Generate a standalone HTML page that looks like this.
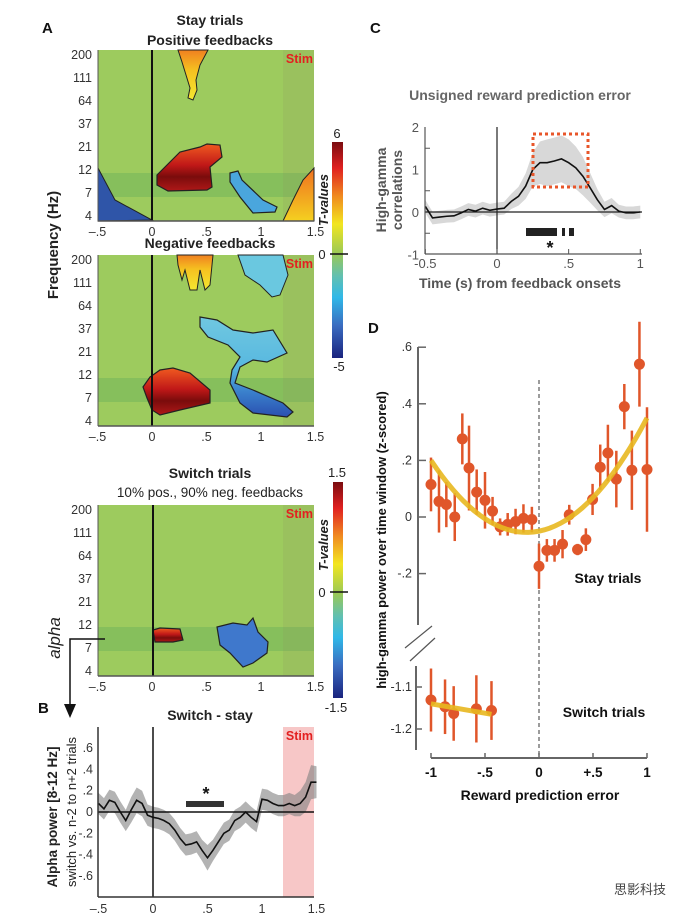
<!DOCTYPE html>
<html><head><meta charset="utf-8">
<style>
html,body{margin:0;padding:0;background:#fff;}
svg{display:block;font-family:"Liberation Sans",Arial,sans-serif;}
.tk{font-size:12.5px;fill:#333;}
.tt{font-size:14px;font-weight:bold;fill:#222;}
.pl{font-size:15px;font-weight:bold;fill:#111;}
</style></head>
<body>
<svg id="fig" width="689" height="918" viewBox="0 0 689 918">
<defs>
<linearGradient id="cbA" x1="0" y1="0" x2="0" y2="1">
<stop offset="0" stop-color="#7a0c10"/><stop offset="0.12" stop-color="#e02020"/><stop offset="0.25" stop-color="#f08a20"/><stop offset="0.38" stop-color="#f2e620"/><stop offset="0.52" stop-color="#98c858"/><stop offset="0.62" stop-color="#62c0b0"/><stop offset="0.72" stop-color="#30b8e8"/><stop offset="0.85" stop-color="#3a6cc0"/><stop offset="1" stop-color="#1a237e"/>
</linearGradient>
<linearGradient id="redG" x1="0" y1="0" x2="0" y2="1"><stop offset="0" stop-color="#f05a20"/><stop offset="0.45" stop-color="#c01818"/><stop offset="0.7" stop-color="#7a0c0c"/><stop offset="1" stop-color="#b01818"/></linearGradient>
<linearGradient id="yelG" x1="0" y1="0" x2="0" y2="1"><stop offset="0" stop-color="#f08020"/><stop offset="0.4" stop-color="#f5c020"/><stop offset="1" stop-color="#f4e830"/></linearGradient>
<linearGradient id="blueG" x1="0" y1="0" x2="0" y2="1"><stop offset="0" stop-color="#70c8e0"/><stop offset="0.5" stop-color="#58b8e0"/><stop offset="0.75" stop-color="#3a80cc"/><stop offset="1" stop-color="#2a50b0"/></linearGradient>
<linearGradient id="orG" x1="0" y1="0" x2="0" y2="1"><stop offset="0" stop-color="#f07020"/><stop offset="1" stop-color="#f4d020"/></linearGradient>
</defs>

<text x="42" y="33" class="pl">A</text>
<text x="210" y="25" class="tt" text-anchor="middle">Stay trials</text>
<text x="210" y="45" class="tt" text-anchor="middle">Positive feedbacks</text>
<text x="210" y="248" class="tt" text-anchor="middle">Negative feedbacks</text>
<text transform="translate(58,245) rotate(-90)" font-size="15" font-weight="bold" fill="#222" text-anchor="middle">Frequency (Hz)</text>

<g id="hmTop">
<rect x="98" y="50" width="216" height="171" fill="#9dcb5e"/>
<rect x="98" y="173" width="216" height="24" fill="#86bf5c"/>
<rect x="283" y="50" width="31" height="171" fill="#8a8a60" opacity="0.15"/>
<path d="M178,50 L208,50 L200,65 L196,80 L197,90 L193,100 L188,98 L190,88 L186,75 L182,62 Z" fill="url(#yelG)" stroke="#222" stroke-width="1"/>
<path d="M157,175 L180,152 L200,147 L207,144 L220,145 L222,157 L210,167 L212,187 L207,190 L168,191 L157,185 Z" fill="url(#redG)" stroke="#222" stroke-width="1.2"/>
<path d="M230,173 L238,171 L242,180 L263,200 L277,207 L275,212 L253,213 L240,197 L230,182 Z" fill="#4aa6dd" stroke="#222" stroke-width="1.2"/>
<path d="M98,168 L115,200 L152,220 L98,221 Z" fill="#2f55a8" stroke="#222" stroke-width="1"/>
<path d="M283,221 L293,200 L303,180 L314,168 L314,221 Z" fill="url(#orG)" stroke="#222" stroke-width="1"/>
<line x1="152" y1="50" x2="152" y2="221" stroke="#111" stroke-width="2"/>
<text x="313" y="63" font-size="12.5" font-weight="bold" fill="#e32020" text-anchor="end">Stim</text>
</g>

<g id="hmNeg">
<rect x="98" y="255" width="216" height="171" fill="#9dcb5e"/>
<rect x="98" y="378" width="216" height="24" fill="#86bf5c"/>
<rect x="283" y="255" width="31" height="171" fill="#8a8a60" opacity="0.15"/>
<path d="M177,255 L213,255 L210,285 L205,290 L200,270 L197,290 L190,290 L185,270 L182,280 L178,265 Z" fill="url(#yelG)" stroke="#222" stroke-width="1"/>
<path d="M238,255 L283,255 L288,275 L280,295 L272,297 L260,285 L245,275 Z" fill="#6ac8e0" stroke="#222" stroke-width="1"/>
<path d="M200,317 L217,320 L233,330 L253,333 L273,330 L287,353 L267,362 L253,360 L240,367 L235,383 L253,390 L283,403 L293,412 L287,417 L253,413 L240,403 L230,383 L232,370 L240,357 L228,345 L208,337 L200,327 Z" fill="url(#blueG)" stroke="#222" stroke-width="1.2"/>
<path d="M143,387 L150,377 L160,370 L173,368 L190,373 L210,390 L210,403 L180,410 L160,415 L152,410 L147,398 Z" fill="url(#redG)" stroke="#222" stroke-width="1.2"/>
<line x1="152" y1="255" x2="152" y2="426" stroke="#111" stroke-width="2"/>
<text x="313" y="268" font-size="12.5" font-weight="bold" fill="#e32020" text-anchor="end">Stim</text>
</g>

<g id="cbarA">
<rect x="332" y="142" width="11" height="216" fill="url(#cbA)"/>
<line x1="330" y1="254" x2="348" y2="254" stroke="#111" stroke-width="1.5"/>
<text x="337" y="138" font-size="13" fill="#222" text-anchor="middle">6</text>
<text x="322" y="259" font-size="13" fill="#222" text-anchor="middle">0</text>
<text x="339" y="371" font-size="13" fill="#222" text-anchor="middle">-5</text>
<text transform="translate(328,200) rotate(-90)" font-size="13" font-weight="bold" font-style="italic" fill="#222" text-anchor="middle">T-values</text>
</g>

<text x="210" y="478" class="tt" text-anchor="middle">Switch trials</text>
<text x="210" y="497" font-size="13.5" fill="#222" text-anchor="middle">10% pos., 90% neg.  feedbacks</text>
<g id="hmSw">
<rect x="98" y="505" width="216" height="171" fill="#9dcb5e"/>
<rect x="98" y="627" width="216" height="24" fill="#86bf5c"/>
<rect x="283" y="505" width="31" height="171" fill="#8a8a60" opacity="0.15"/>
<path d="M153,630 L160,628 L180,629 L183,640 L173,642 L155,642 Z" fill="url(#redG)" stroke="#222" stroke-width="1.2"/>
<path d="M217,627 L233,623 L247,625 L253,618 L258,632 L268,642 L267,653 L253,663 L243,667 L230,653 L220,645 Z" fill="#3f78cc" stroke="#222" stroke-width="1.2"/>
<line x1="153" y1="505" x2="153" y2="676" stroke="#111" stroke-width="2"/>
<text x="313" y="518" font-size="12.5" font-weight="bold" fill="#e32020" text-anchor="end">Stim</text>
</g>
<g id="cbarS">
<rect x="333" y="482" width="10" height="216" fill="url(#cbA)"/>
<line x1="330" y1="592" x2="348" y2="592" stroke="#111" stroke-width="1.5"/>
<text x="337" y="477" font-size="13" fill="#222" text-anchor="middle">1.5</text>
<text x="322" y="597" font-size="13" fill="#222" text-anchor="middle">0</text>
<text x="336" y="712" font-size="13" fill="#222" text-anchor="middle">-1.5</text>
<text transform="translate(328,545) rotate(-90)" font-size="13" font-weight="bold" font-style="italic" fill="#222" text-anchor="middle">T-values</text>
</g>
<text transform="translate(60,638) rotate(-90)" font-size="17" font-style="italic" fill="#222" text-anchor="middle">alpha</text>
<path d="M105,639 L70,639 L70,710" fill="none" stroke="#111" stroke-width="1.5"/>
<path d="M64,704 L76,704 L70,718 Z" fill="#111"/>

<text x="38" y="713" class="pl">B</text>
<text x="210" y="720" class="tt" text-anchor="middle">Switch - stay</text>
<text transform="translate(57,817) rotate(-90)" font-size="13.5" font-weight="bold" fill="#222" text-anchor="middle">Alpha power [8-12 Hz]</text>
<text transform="translate(76,812) rotate(-90)" font-size="13" fill="#222" text-anchor="middle">switch vs. n-2 to n+2 trials</text>
<g id="panelB"></g>

<text x="370" y="33" class="pl">C</text>
<text x="520" y="100" font-size="14" font-weight="bold" fill="#666" text-anchor="middle">Unsigned reward prediction error</text>
<text transform="translate(386,190) rotate(-90)" font-size="14" font-weight="bold" fill="#555" text-anchor="middle">High-gamma</text>
<text transform="translate(402,190) rotate(-90)" font-size="14" font-weight="bold" fill="#555" text-anchor="middle">correlations</text>
<text x="520" y="288" font-size="14" font-weight="bold" fill="#555" text-anchor="middle">Time (s) from feedback onsets</text>
<g id="panelC"></g>

<text x="368" y="333" class="pl">D</text>
<text transform="translate(386,540) rotate(-90)" font-size="13" font-weight="bold" fill="#111" text-anchor="middle">high-gamma power  over time window (z-scored)</text>
<text x="540" y="800" font-size="14" font-weight="bold" fill="#111" text-anchor="middle">Reward prediction error</text>
<text x="608" y="583" font-size="14" font-weight="bold" fill="#111" text-anchor="middle">Stay trials</text>
<text x="604" y="717" font-size="14" font-weight="bold" fill="#111" text-anchor="middle">Switch trials</text>
<g id="panelD"></g>
<text x="640" y="894" font-size="13" fill="#444" text-anchor="middle">思影科技</text>
</svg>
<script>
const bTimes=[-0.5,-0.45,-0.4,-0.35,-0.3,-0.25,-0.2,-0.15,-0.1,-0.05,0,0.05,0.1,0.15,0.2,0.25,0.3,0.35,0.4,0.45,0.5,0.55,0.6,0.65,0.7,0.75,0.8,0.85,0.9,0.95,1.0,1.05,1.1,1.15,1.2,1.25,1.3,1.35,1.4,1.45,1.5];
const bValues=[0.08,0.03,0.11,0.09,0,-0.08,0.02,0.11,0.08,-0.03,-0.05,-0.06,-0.08,-0.11,-0.17,-0.25,-0.31,-0.3,-0.28,-0.36,-0.43,-0.36,-0.28,-0.2,-0.17,-0.08,-0.05,0,-0.05,-0.09,0.12,0.11,0.08,0.06,0.06,0.08,0.06,0.08,0.14,0.28,0.28];
const bErr=[0.1,0.1,0.1,0.1,0.1,0.1,0.12,0.12,0.12,0.1,0.1,0.1,0.1,0.1,0.1,0.1,0.1,0.1,0.1,0.1,0.12,0.1,0.1,0.1,0.1,0.1,0.1,0.1,0.1,0.1,0.1,0.1,0.1,0.1,0.1,0.1,0.1,0.12,0.14,0.16,0.15];
const bYTicks=[0.6,0.4,0.2,0,-0.2,-0.4,-0.6];
const bYLabels=[".6",".4",".2","0","-.2","-.4","-.6"];
const bXTicks=[-0.5,0,0.5,1,1.5];
const bXLabels=["\u2013.5","0",".5","1","1.5"];
const cTimes=[-0.5,-0.45,-0.4,-0.35,-0.3,-0.25,-0.2,-0.15,-0.1,-0.05,0,0.05,0.1,0.15,0.2,0.25,0.3,0.35,0.4,0.45,0.5,0.55,0.6,0.65,0.7,0.75,0.8,0.85,0.9,0.95,1.0];
const cValues=[0.13,-0.14,-0.12,-0.1,-0.09,-0.02,0.06,0.02,0.09,0.04,0.07,0.09,0.25,0.37,0.61,1.0,1.16,1.16,1.2,1.25,1.16,1.04,0.84,0.57,0.29,0.06,0.15,0.02,-0.02,-0.02,0];
const cErr=[0.15,0.15,0.15,0.15,0.15,0.15,0.15,0.15,0.15,0.15,0.15,0.15,0.18,0.22,0.3,0.4,0.5,0.55,0.55,0.55,0.55,0.5,0.45,0.35,0.25,0.18,0.18,0.15,0.15,0.15,0.15];
const cYTicks=[2,1,0,-1];
const cXTicks=[-0.5,0,0.5,1];
const cXLabels=["-0.5","0",".5","1"];
const dStayX=[-1.0,-0.926,-0.858,-0.78,-0.71,-0.648,-0.577,-0.5,-0.43,-0.36,-0.29,-0.217,-0.144,-0.066,0.0,0.073,0.144,0.218,0.28,0.357,0.434,0.496,0.567,0.638,0.716,0.79,0.86,0.93,1.0];
const dStayY=[0.115,0.055,0.044,0.0,0.276,0.173,0.088,0.059,0.021,-0.035,-0.026,-0.016,-0.005,-0.009,-0.174,-0.118,-0.118,-0.096,0.008,-0.115,-0.08,0.062,0.176,0.226,0.134,0.39,0.165,0.54,0.168];
const dStayErr=[0.095,0.11,0.08,0.085,0.09,0.15,0.08,0.1,0.05,0.03,0.04,0.045,0.05,0.045,0.08,0.04,0.04,0.05,0.035,0.02,0.04,0.055,0.08,0.1,0.1,0.08,0.14,0.15,0.22];
const dFitCoef=[-0.05,0.075,0.325];
const dSwitchX=[-1.0,-0.87,-0.79,-0.58,-0.44];
const dSwitchY=[-1.131,-1.147,-1.163,-1.152,-1.156];
const dSwitchErr=[0.075,0.065,0.065,0.08,0.07];
const dSwitchFit=[-1.14,-1.165];
const dYTicks=[0.6,0.4,0.2,0,-0.2];
const dYLabels=[".6",".4",".2","0","-.2"];
const dY2Ticks=[-1.1,-1.2];
const dXTicks=[-1,-0.5,0,0.5,1];
const dXLabels=["-1","-.5","0","+.5","1"];

const NS="http://www.w3.org/2000/svg";
function mk(parent,tag,attrs,txt){const e=document.createElementNS(NS,tag);for(const k in attrs)e.setAttribute(k,attrs[k]);if(txt!==undefined)e.textContent=txt;parent.appendChild(e);return e;}

const fLabels=["200","111","64","37","21","12","7","4"];
const hmTimes=[-0.5,0,0.5,1,1.5];
const hmTimeLabels=["\u2013.5","0",".5","1","1.5"];
function hmAxes(g,top,bot,x0){
  const ys=(i)=>top+5+i*(bot-top-10)/7;
  fLabels.forEach((l,i)=>{
    const t=mk(g,'text',{x:92,y:ys(i)+4,'text-anchor':'end','class':'tk'},l);
    
    
  });
  mk(g,'line',{x1:98,y1:top,x2:98,y2:bot,stroke:'#555','stroke-width':1});
  mk(g,'line',{x1:98,y1:bot,x2:314,y2:bot,stroke:'#555','stroke-width':1.5});
  hmTimes.forEach((t,i)=>{
    const x=x0+t*109;
    const e=mk(g,'text',{x:x,y:bot+15,'text-anchor':'middle','class':'tk'},hmTimeLabels[i]);
    
    
  });
}
hmAxes(document.getElementById('hmTop'),50,221,152);
hmAxes(document.getElementById('hmNeg'),255,426,152);
hmAxes(document.getElementById('hmSw'),505,676,152);

(function(){
  const g=document.getElementById('panelB');
  const xB=t=>153+t*109, yB=v=>812-v*106.5;
  mk(g,'rect',{x:283,y:727,width:31,height:170,fill:'#f4b4b4',opacity:0.75});
  mk(g,'text',{x:313,y:740,'text-anchor':'end','font-size':12.5,'font-weight':'bold',fill:'#e32020'},'Stim');
  let up='',dn='';
  bTimes.forEach((t,i)=>{up+=(i?'L':'M')+xB(t)+','+yB(bValues[i]+bErr[i]);});
  for(let i=bTimes.length-1;i>=0;i--)dn+='L'+xB(bTimes[i])+','+yB(bValues[i]-bErr[i]);
  const band=mk(g,'path',{d:up+dn+'Z',fill:'#808080',opacity:0.6});
  
  
  mk(g,'line',{x1:98,y1:yB(0),x2:314,y2:yB(0),stroke:'#111','stroke-width':1.5});
  mk(g,'line',{x1:xB(0),y1:727,x2:xB(0),y2:897,stroke:'#111','stroke-width':1.5});
  let d='';bTimes.forEach((t,i)=>{d+=(i?'L':'M')+xB(t)+','+yB(bValues[i]);});
  const ln=mk(g,'path',{d:d,fill:'none',stroke:'#111','stroke-width':1.6});
  
  
  mk(g,'rect',{x:186,y:801,width:38,height:6,fill:'#333'});
  mk(g,'text',{x:206,y:800,'text-anchor':'middle','font-size':18,'font-weight':'bold',fill:'#111'},'*');
  mk(g,'line',{x1:98,y1:727,x2:98,y2:897,stroke:'#333','stroke-width':1.5});
  mk(g,'line',{x1:98,y1:897,x2:314,y2:897,stroke:'#333','stroke-width':1.5});
  bYTicks.forEach((v,i)=>{mk(g,'text',{x:93,y:yB(v)+4,'text-anchor':'end','class':'tk'},bYLabels[i]);});
  bXTicks.forEach((t,i)=>{mk(g,'text',{x:xB(t),y:913,'text-anchor':'middle','class':'tk'},bXLabels[i]);});
})();

(function(){
  const g=document.getElementById('panelC');
  const xC=t=>497+t*143.3, yC=v=>212-v*42.5;
  let up='',dn='';
  cTimes.forEach((t,i)=>{up+=(i?'L':'M')+xC(t)+','+yC(cValues[i]+cErr[i]);});
  for(let i=cTimes.length-1;i>=0;i--)dn+='L'+xC(cTimes[i])+','+yC(cValues[i]-cErr[i]);
  const band=mk(g,'path',{d:up+dn+'Z',fill:'#d8d8d8'});
  
  
  mk(g,'line',{x1:425,y1:yC(0),x2:642,y2:yC(0),stroke:'#222','stroke-width':1.2});
  mk(g,'line',{x1:xC(0),y1:127,x2:xC(0),y2:254,stroke:'#222','stroke-width':1.2});
  let d='';cTimes.forEach((t,i)=>{d+=(i?'L':'M')+xC(t)+','+yC(cValues[i]);});
  const ln=mk(g,'path',{d:d,fill:'none',stroke:'#111','stroke-width':1.6});
  
  
  mk(g,'rect',{x:533,y:134,width:55,height:53,fill:'none',stroke:'#e8562a','stroke-width':3,'stroke-dasharray':'3,3'});
  mk(g,'rect',{x:526,y:228,width:31,height:8,fill:'#222'});
  mk(g,'rect',{x:562,y:228,width:3,height:8,fill:'#222'});
  mk(g,'rect',{x:569,y:228,width:5,height:8,fill:'#222'});
  mk(g,'text',{x:550,y:254,'text-anchor':'middle','font-size':18,'font-weight':'bold',fill:'#111'},'*');
  mk(g,'line',{x1:425,y1:127,x2:425,y2:254,stroke:'#555','stroke-width':1.2});
  mk(g,'line',{x1:425,y1:254,x2:642,y2:254,stroke:'#555','stroke-width':1.2});
  [1.5,0.5,-0.5].forEach(v=>mk(g,'line',{x1:425,y1:yC(v),x2:430,y2:yC(v),stroke:'#555'}));
  cYTicks.forEach(v=>{mk(g,'text',{x:419,y:yC(v)+5,'text-anchor':'end','font-size':13,fill:'#555'},String(v));});
  cXTicks.forEach((t,i)=>{mk(g,'line',{x1:xC(t),y1:254,x2:xC(t),y2:249,stroke:'#555'});mk(g,'text',{x:xC(t),y:268,'text-anchor':'middle','font-size':13,fill:'#555'},cXLabels[i]);});
})();

(function(){
  const g=document.getElementById('panelD');
  const xD=v=>431+(v+1)*108, yD=v=>517-v*283, yD2=v=>687-(v+1.1)*420;
  const OR='#e0562a', YL='#e8b820';
  mk(g,'line',{x1:xD(0),y1:380,x2:xD(0),y2:758,stroke:'#666','stroke-width':1.3,'stroke-dasharray':'4,3'});
  mk(g,'line',{x1:418,y1:347,x2:418,y2:625,stroke:'#666','stroke-width':2});
  mk(g,'line',{x1:416,y1:666,x2:416,y2:750,stroke:'#666','stroke-width':2});
  mk(g,'line',{x1:405,y1:648,x2:432,y2:626,stroke:'#555','stroke-width':1.2});
  mk(g,'line',{x1:410,y1:661,x2:435,y2:638,stroke:'#555','stroke-width':1.2});
  dYTicks.forEach((v,i)=>{mk(g,'line',{x1:418,y1:yD(v),x2:426,y2:yD(v),stroke:'#666','stroke-width':1.5});mk(g,'text',{x:412,y:yD(v)+4,'text-anchor':'end','class':'tk'},dYLabels[i]);});
  dY2Ticks.forEach(v=>{mk(g,'line',{x1:416,y1:yD2(v),x2:422,y2:yD2(v),stroke:'#666','stroke-width':1.5});mk(g,'text',{x:412,y:yD2(v)+4,'text-anchor':'end','class':'tk'},String(v));});
  mk(g,'line',{x1:431,y1:758,x2:647,y2:758,stroke:'#666','stroke-width':2});
  dXTicks.forEach((v,i)=>{mk(g,'line',{x1:xD(v),y1:758,x2:xD(v),y2:753,stroke:'#666','stroke-width':1.5});mk(g,'text',{x:xD(v),y:777,'text-anchor':'middle','font-size':13.5,'font-weight':'bold',fill:'#111'},dXLabels[i]);});
  dStayX.forEach((x,i)=>{
    const eb=mk(g,'line',{x1:xD(x),y1:yD(dStayY[i]+dStayErr[i]),x2:xD(x),y2:yD(dStayY[i]-dStayErr[i]),stroke:OR,'stroke-width':2.5});
    
    
    const c=mk(g,'circle',{cx:xD(x),cy:yD(dStayY[i]),r:5.5,fill:OR});
    
    
  });
  let d='';
  for(let k=0;k<=40;k++){const x=-1+k*0.05;const y=dFitCoef[0]+dFitCoef[1]*x+dFitCoef[2]*x*x;d+=(k?'L':'M')+xD(x)+','+yD(y);}
  const fit=mk(g,'path',{d:d,fill:'none',stroke:YL,'stroke-width':5,opacity:0.9});
  
  
  dSwitchX.forEach((x,i)=>{
    const eb=mk(g,'line',{x1:xD(x),y1:yD2(dSwitchY[i]+dSwitchErr[i]),x2:xD(x),y2:yD2(dSwitchY[i]-dSwitchErr[i]),stroke:OR,'stroke-width':2.5});
    
    
    const c=mk(g,'circle',{cx:xD(x),cy:yD2(dSwitchY[i]),r:5.5,fill:OR});
    
    
  });
  const sf=mk(g,'line',{x1:xD(dSwitchX[0]),y1:yD2(dSwitchFit[0]),x2:xD(dSwitchX[dSwitchX.length-1]),y2:yD2(dSwitchFit[1]),stroke:YL,'stroke-width':5,opacity:0.9});
  
  
})();
</script>
</body></html>
